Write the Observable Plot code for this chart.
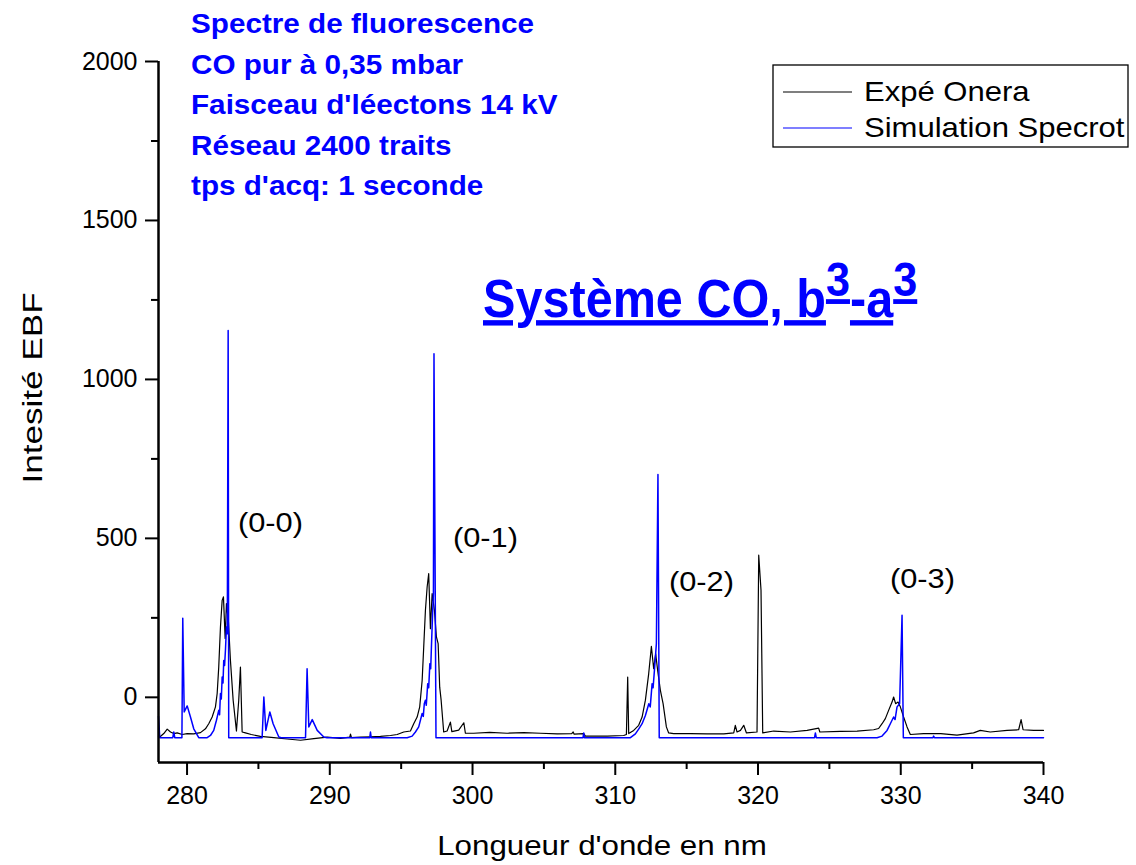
<!DOCTYPE html>
<html><head><meta charset="utf-8">
<script src="https://cdn.jsdelivr.net/npm/d3@7"></script>
<script src="https://cdn.jsdelivr.net/npm/@observablehq/plot@0.6"></script>
<style>html,body{margin:0;padding:0;background:#fff;overflow:hidden}#chart svg{display:block}</style>
</head><body><div id="chart"></div>
<script>
// Experimental spectrum (black)
const expNm = [278.00,278.09,278.37,278.61,278.84,279.07,279.31,279.66,280.01,280.47,280.94,281.29,281.52,281.76,281.99,282.11,282.22,282.34,282.46,282.55,282.67,282.76,282.90,283.04,283.23,283.46,283.62,283.74,283.86,284.09,284.50,285.14,286.08,287.01,287.95,288.88,289.82,290.75,291.40,291.45,291.52,292.15,292.85,293.55,294.25,294.72,295.18,295.65,295.88,296.12,296.30,296.47,296.58,296.70,296.82,296.93,297.05,297.17,297.33,297.47,297.59,297.70,297.80,297.98,298.22,298.45,298.55,299.03,299.39,299.50,300.08,301.20,302.42,303.59,304.76,305.93,306.95,307.05,307.12,307.79,307.91,309.43,310.59,310.78,310.87,310.94,311.29,311.64,311.88,312.11,312.34,312.53,312.69,312.83,312.97,313.16,313.35,313.58,313.74,314.09,315.26,316.43,317.60,318.30,318.41,318.53,318.77,319.00,319.19,319.93,320.05,320.21,320.33,321.10,322.27,323.44,324.25,324.33,325.77,326.94,328.10,328.45,328.69,328.92,329.15,329.39,329.50,329.64,329.81,329.97,330.20,330.44,330.67,331.60,332.80,333.94,335.10,335.57,336.27,337.45,338.26,338.43,338.57,339.31,340.00];
const expVal = [-122,-125,-114,-100,-109,-114,-112,-117,-114,-115,-111,-99,-83,-62,-30,12,95,221,305,316,185,295,237,116,-9,-106,-10,95,-109,-112,-117,-123,-127,-131,-135,-130,-125,-129,-125,-116,-127,-125,-124,-123,-120,-117,-109,-106,-83,-62,-30,53,158,274,347,389,216,326,274,190,169,32,-9,-109,-106,-78,-108,-103,-80,-113,-113,-110,-113,-111,-113,-115,-114,-109,-116,-114,-122,-122,-120,-117,64,-114,-104,-88,-62,-9,74,160,90,137,85,22,-20,-93,-112,-114,-114,-115,-115,-112,-88,-109,-104,-88,-112,-109,447,337,-112,-106,-109,-104,-97,-109,-107,-106,-102,-98,-83,-67,-41,-15,1,-20,-15,-30,-62,-93,-117,-114,-114,-119,-112,-104,-109,-104,-102,-70,-102,-104,-104];

// Simulation (blue)
const simNm = [278.00,278.09,279.00,279.07,279.14,279.64,279.70,279.80,280.01,280.24,280.47,280.82,281.41,281.64,281.87,282.06,282.22,282.28,282.34,282.40,282.46,282.52,282.57,282.63,282.69,282.76,282.82,282.88,282.92,285.26,285.38,285.52,285.80,286.03,286.43,286.60,288.30,288.41,288.53,288.77,289.12,289.58,289.80,292.80,292.85,292.90,295.42,295.77,296.00,296.23,296.47,296.55,296.62,296.70,296.76,296.86,296.93,297.01,297.07,297.12,297.21,297.26,297.30,297.44,307.74,307.79,307.84,311.06,311.41,311.65,311.88,312.11,312.35,312.45,312.58,312.65,312.76,312.88,312.99,313.08,323.96,324.02,324.08,328.34,328.69,329.04,329.27,329.50,329.60,329.74,329.92,330.09,330.18,332.26,332.30,332.36,340.00];
const simVal = [-60,-127,-127,-109,-127,-127,249,-46,-27,-62,-99,-127,-127,-120,-104,-72,-41,-55,12,-5,64,45,116,100,148,221,200,1154,-127,-127,1,-104,-46,-83,-125,-127,-127,90,-93,-70,-104,-125,-127,-127,-109,-127,-127,-122,-109,-93,-51,-60,-20,-9,-25,43,30,106,90,158,274,326,1081,-127,-127,-112,-127,-127,-115,-99,-83,-57,-20,-30,43,30,95,169,701,-127,-127,-112,-127,-127,-122,-104,-83,-62,-70,-30,-20,258,-127,-127,-122,-127,-127];

const xTicks = [280,290,300,310,320,330,340];
const xMinor = [285,295,305,315,325,335];
const yTicks = [0,500,1000,1500,2000];
const yMinor = [250,750,1250,1750];

const bandLabels = ["(0-0)","(0-1)","(0-2)","(0-3)"];
const bandNm = [285.88,300.94,316.07,331.55];
const bandVal = [550,503,365,374];

const infoLines = ["Spectre de fluorescence","CO pur à 0,35 mbar","Faisceau d'léectons 14 kV","Réseau 2400 traits","tps d'acq: 1 seconde"];
const seriesNames = ["Expé Onera","Simulation Specrot"];
const seriesColors = ["#000000","#0000ff"];
const xLabel = "Longueur d'onde en nm";
const yLabel = "Intesité EBF";

const exp = expNm.map((x,i)=>({x, y: expVal[i]}));
const sim = simNm.map((x,i)=>({x, y: simVal[i]}));
const font = "'Liberation Sans', Arial, Helvetica, sans-serif";

const chart = Plot.plot({
  width:1136, height:865, marginLeft:158, marginRight:93, marginTop:61, marginBottom:103,
  style:{fontFamily:font, fontSize:"25px", color:"#000", background:"#fff", overflow:"visible"},
  x:{domain:[278,340]},
  y:{domain:[-205,2000]},
  marks:[
    Plot.axisX({ticks:xTicks, tickSize:13, tickPadding:11, strokeWidth:2, label:null, fontSize:25, tickFormat:d=>String(d)}),
    Plot.axisX({ticks:xMinor, tickSize:7, tickFormat:()=>"", strokeWidth:2, label:null}),
    Plot.axisY({ticks:yTicks, tickSize:13, tickPadding:8, strokeWidth:2, label:null, fontSize:25, tickFormat:d=>String(d)}),
    Plot.axisY({ticks:yMinor, tickSize:7, tickFormat:()=>"", strokeWidth:2, label:null}),
    Plot.lineY(exp, {x:"x", y:"y", stroke:seriesColors[0], strokeWidth:1.2}),
    Plot.lineY(sim, {x:"x", y:"y", stroke:seriesColors[1], strokeWidth:1.5}),
    Plot.ruleX([278], {stroke:"black", strokeWidth:2.5}),
    Plot.ruleY([-205], {stroke:"black", strokeWidth:2.5})
  ]
});
document.getElementById("chart").appendChild(chart);

const svg = d3.select(chart);
const xs = chart.scale("x"), ys = chart.scale("y");

// band annotations
bandLabels.forEach((t,i)=>{
  svg.append("text")
    .attr("transform", `translate(${xs.apply(bandNm[i])},${ys.apply(bandVal[i])}) scale(1.1,1)`)
    .attr("text-anchor","middle").attr("dy","0.35em")
    .style("font-family",font).style("font-size","28px").attr("fill","#000")
    .text(t);
});

// info block
const infoBase = [33,74,114,155,195];
infoLines.forEach((t,i)=>{
  svg.append("text")
    .attr("transform", `translate(191,${infoBase[i]}) scale(1.06,1)`)
    .attr("text-anchor","start")
    .style("font-family",font).style("font-size","28px").style("font-weight","bold")
    .attr("fill","#0000ff").text(t);
});

// big title
const title = svg.append("text")
  .attr("transform","translate(483,317) scale(0.9,1)").attr("text-anchor","start")
  .style("font-family",font).style("font-weight","bold").style("font-size","54px")
  .style("text-decoration","underline").attr("fill","#0000ff");
title.append("tspan").text("Système CO, b");
title.append("tspan").attr("dy",-21).style("font-size","48px").text("3");
title.append("tspan").attr("dy",21).text("-a");
title.append("tspan").attr("dy",-21).style("font-size","48px").text("3");

// legend
const lg = svg.append("g");
lg.append("rect").attr("x",773).attr("y",65).attr("width",355).attr("height",82)
  .attr("fill","#fff").attr("stroke","#000").attr("stroke-width",1.3);
[92,128].forEach((yy,i)=>{
  lg.append("line").attr("x1",783).attr("x2",852).attr("y1",yy).attr("y2",yy)
    .attr("stroke",seriesColors[i]).attr("stroke-width",1.2);
  lg.append("text").attr("transform",`translate(864,${yy+9}) scale(1.15,1)`)
    .attr("text-anchor","start")
    .style("font-family",font).style("font-size","27px").attr("fill","#000").text(seriesNames[i]);
});

// axis labels
svg.append("text").attr("transform","translate(602,855) scale(1.16,1)")
  .attr("text-anchor","middle").style("font-family",font).style("font-size","27px").text(xLabel);
svg.append("text").attr("transform","translate(42,388) rotate(-90) scale(1.3,1.05)")
  .attr("text-anchor","middle").style("font-family",font).style("font-size","27px").text(yLabel);
</script>
</body></html>
